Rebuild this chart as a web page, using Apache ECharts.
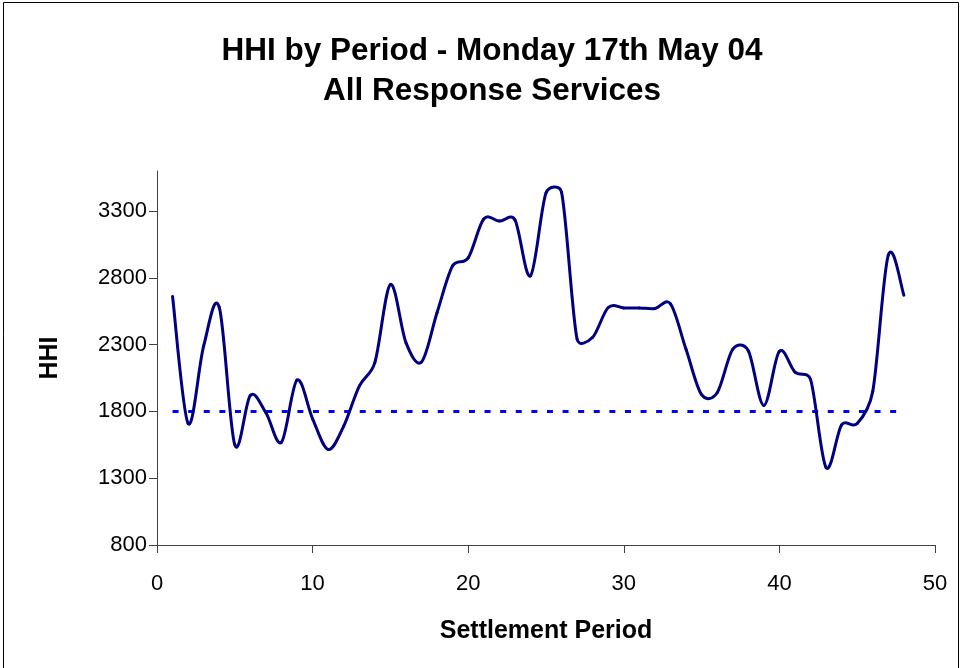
<!DOCTYPE html>
<html>
<head>
<meta charset="utf-8">
<title>HHI by Period</title>
<script src="https://cdn.jsdelivr.net/npm/echarts@6/dist/echarts.min.js"></script>
<style>
  html, body { margin: 0; padding: 0; background: #fff; }
  #chart { width: 963px; height: 668px; }
</style>
</head>
<body>
<div id="chart"></div>
<script>
// Settlement periods 1..48 and the HHI for each period
const periods = [1,2,3,4,5,6,7,8,9,10,11,12,13,14,15,16,17,18,19,20,21,22,23,24,
                 25,26,27,28,29,30,31,32,33,34,35,36,37,38,39,40,41,42,43,44,45,46,47,48];
const hhi = [2660,1710,2290,2580,1550,1920,1790,1570,2035,1745,1515,1690,1990,2165,2750,2315,
             2170,2540,2890,2950,3240,3225,3235,2815,3435,3440,2340,2355,2578,2575,2575,2570,
             2605,2265,1925,1940,2265,2255,1845,2250,2095,2040,1380,1700,1710,1950,2970,2670];

// Concentration threshold drawn as a dashed reference line
const threshold = 1800;
const thresholdSpan = [1, 48];

// Axis ticks
const yTicks = [800, 1300, 1800, 2300, 2800, 3300];
const xTicks = [0, 10, 20, 30, 40, 50];

const chart = echarts.init(document.getElementById('chart'), null, { renderer: 'canvas' });

const font = '"Liberation Sans", Arial, sans-serif';

function dist(a, b) { return Math.hypot(b[0] - a[0], b[1] - a[1]); }

// Each item draws the spline segment from its point to the next one.
// Tangents follow the neighbour difference / 6, with the control arm
// capped at half the segment length so short segments do not overshoot.
function renderSpline(params, api) {
  const i = params.dataIndex;
  const n = periods.length;
  if (i >= n - 1) return null;
  const clampIdx = k => Math.max(0, Math.min(n - 1, k));
  const pt = k => api.coord([periods[clampIdx(k)], hhi[clampIdx(k)]]);
  const p0 = pt(i - 1), p1 = pt(i), p2 = pt(i + 1), p3 = pt(i + 2);
  const d12 = dist(p1, p2), d02 = dist(p0, p2), d13 = dist(p1, p3);
  const f0 = (d02 / 6 < d12 / 2) ? 1 / 6 : d12 / 2 / d02;
  const f1 = (d13 / 6 < d12 / 2) ? 1 / 6 : d12 / 2 / d13;
  return {
    type: 'bezierCurve',
    shape: {
      x1: p1[0], y1: p1[1],
      cpx1: p1[0] + (p2[0] - p0[0]) * f0, cpy1: p1[1] + (p2[1] - p0[1]) * f0,
      cpx2: p2[0] - (p3[0] - p1[0]) * f1, cpy2: p2[1] - (p3[1] - p1[1]) * f1,
      x2: p2[0], y2: p2[1]
    },
    style: { fill: null, stroke: '#000080', lineWidth: 3, lineCap: 'round', lineJoin: 'round' }
  };
}

chart.setOption({
  animation: false,
  backgroundColor: '#ffffff',
  title: {
    text: 'HHI by Period - Monday 17th May 04\nAll Response Services',
    left: 492,
    top: 31,
    padding: 0,
    textAlign: 'center',
    textStyle: {
      fontFamily: font,
      fontWeight: 'bold',
      fontSize: 31.5,
      lineHeight: 40,
      color: '#000'
    }
  },
  graphic: [{
    type: 'rect',
    shape: { x: 3.5, y: 2.5, width: 955, height: 700 },
    style: { fill: 'none', stroke: '#000', lineWidth: 1 },
    silent: true
  }],
  grid: { left: 157, right: 28, top: 171, bottom: 123 },
  xAxis: {
    type: 'value',
    min: xTicks[0],
    max: xTicks[xTicks.length - 1],
    interval: 10,
    name: 'Settlement Period',
    nameLocation: 'middle',
    nameGap: 74,
    nameTextStyle: { fontFamily: font, fontWeight: 'bold', fontSize: 25, color: '#000' },
    axisLine: { show: true, onZero: false, lineStyle: { color: '#404040', width: 1 } },
    axisTick: { show: true, length: 8, lineStyle: { color: '#404040' } },
    axisLabel: { margin: 28, fontFamily: font, fontSize: 22, color: '#000' },
    splitLine: { show: false }
  },
  yAxis: {
    type: 'value',
    min: 800,
    max: 3600,
    name: 'HHI',
    nameLocation: 'middle',
    nameGap: 94,
    nameRotate: 90,
    nameTextStyle: { fontFamily: font, fontWeight: 'bold', fontSize: 25, color: '#000' },
    axisLine: { show: true, lineStyle: { color: '#404040', width: 1 } },
    axisTick: { show: true, length: 8, customValues: yTicks, lineStyle: { color: '#404040' } },
    axisLabel: {
      margin: 10, customValues: yTicks, formatter: v => String(v),
      fontFamily: font, fontSize: 22, color: '#000'
    },
    splitLine: { show: false }
  },
  series: [
    {
      name: 'Threshold',
      type: 'line',
      data: thresholdSpan.map(x => [x, threshold]),
      symbol: 'none',
      lineStyle: { color: '#0000FF', width: 3, type: [6, 9.6] },
      z: 1
    },
    {
      name: 'HHI',
      type: 'custom',
      coordinateSystem: 'cartesian2d',
      data: periods.map((p, i) => [p, hhi[i]]),
      encode: { x: 0, y: 1 },
      renderItem: renderSpline,
      clip: false,
      z: 2
    }
  ]
});
</script>
</body>
</html>
